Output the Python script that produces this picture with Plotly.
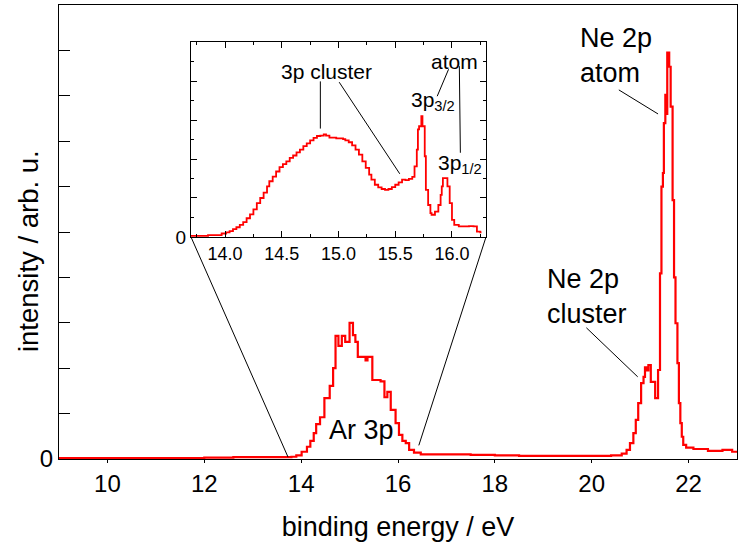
import plotly.graph_objects as go

# ---------------- data ----------------
main_energy = [9.0, 10.0, 11.0, 12.0, 12.6, 13.0, 13.5, 13.8, 13.9,
               14.01, 14.12, 14.19, 14.26, 14.31, 14.39, 14.48, 14.59, 14.66, 14.71,
               14.77, 14.84, 14.91, 15.00, 15.07, 15.12, 15.17, 15.33, 15.37, 15.47,
               15.64, 15.72, 15.78, 15.85, 15.95, 16.02, 16.09, 16.16, 16.23, 16.33,
               16.47, 17.0, 17.5, 18.0, 18.5, 19.0, 19.5, 20.0, 20.4, 20.62, 20.72,
               20.79, 20.86, 20.91, 20.96, 21.02, 21.07, 21.10, 21.14, 21.17, 21.22,
               21.31, 21.37, 21.41, 21.44, 21.47, 21.49, 21.52, 21.54, 21.56, 21.60,
               21.63, 21.67, 21.70, 21.73, 21.77, 21.80, 21.83, 21.86, 21.89, 21.95,
               22.1, 22.4, 22.7, 22.9, 23.0]
main_intensity = [0.02, 0.02, 0.02, 0.03, 0.04, 0.04, 0.04, 0.05, 0.08,
                  0.16, 0.27, 0.40, 0.57, 0.77, 0.92, 1.34, 1.61, 2.00, 2.71,
                  2.49, 2.71, 2.58, 3.00, 2.73, 2.58, 2.25, 2.17, 2.25, 1.74,
                  1.71, 1.36, 1.48, 1.08, 0.79, 0.53, 0.40, 0.35, 0.20, 0.14,
                  0.10, 0.10, 0.09, 0.08, 0.07, 0.07, 0.07, 0.07, 0.08, 0.12, 0.20,
                  0.35, 0.57, 0.86, 1.23, 1.67, 1.81, 2.02, 1.95, 2.07, 1.70,
                  1.34, 1.96, 4.09, 6.00, 6.30, 7.40, 8.02, 7.60, 8.95, 8.64,
                  7.76, 5.70, 4.00, 2.99, 2.11, 1.23, 0.79, 0.49, 0.31, 0.25,
                  0.22, 0.18, 0.20, 0.16, 0.16]

inset_energy = [13.70, 13.85, 13.97, 14.01, 14.04, 14.07, 14.10, 14.13, 14.16, 14.19,
                14.22, 14.25, 14.28, 14.31, 14.34, 14.37, 14.39, 14.42, 14.45, 14.48,
                14.51, 14.54, 14.57, 14.60, 14.63, 14.66, 14.69, 14.72, 14.75, 14.78,
                14.81, 14.84, 14.87, 14.89, 14.92, 14.95, 14.98, 15.01, 15.04, 15.06,
                15.09, 15.12, 15.15, 15.18, 15.21, 15.24, 15.27, 15.29, 15.32, 15.35,
                15.38, 15.41, 15.44, 15.47, 15.50, 15.53, 15.56, 15.59, 15.62, 15.65,
                15.67, 15.69, 15.70, 15.71, 15.73, 15.74, 15.76, 15.77, 15.79, 15.81,
                15.82, 15.85, 15.88, 15.90, 15.91, 15.92, 15.95, 15.96, 15.98, 16.00,
                16.02, 16.06, 16.15, 16.19, 16.22, 16.25, 16.26]
inset_intensity = [0.03, 0.05, 0.09, 0.12, 0.15, 0.20, 0.25, 0.31, 0.38, 0.48,
                   0.58, 0.71, 0.87, 1.00, 1.14, 1.30, 1.43, 1.55, 1.68, 1.79,
                   1.87, 1.94, 2.03, 2.09, 2.17, 2.24, 2.33, 2.40, 2.48, 2.54,
                   2.59, 2.60, 2.63, 2.60, 2.55, 2.55, 2.53, 2.53, 2.51, 2.48,
                   2.43, 2.35, 2.24, 2.11, 1.94, 1.77, 1.60, 1.47, 1.34, 1.27,
                   1.23, 1.21, 1.23, 1.28, 1.34, 1.40, 1.47, 1.46, 1.49, 1.54,
                   1.81, 2.24, 2.76, 2.84, 3.10, 2.84, 2.07, 1.21, 0.82, 0.61,
                   0.57, 0.65, 0.82, 1.08, 1.30, 1.51, 1.51, 1.30, 0.87, 0.44,
                   0.31, 0.27, 0.28, 0.27, 0.14, 0.12, 0.12]

main_x_range = [9, 23]
main_y_range = [0, 10]
inset_x_range = [13.70, 16.30]
inset_y_range = [0, 5]
main_x_ticks = [10, 12, 14, 16, 18, 20, 22]
inset_x_ticks = [14.0, 14.5, 15.0, 15.5, 16.0]

# zoom connector end points on the main spectrum (data coords)
zoom_left = (13.73, 0.04)
zoom_right = (16.43, 0.30)

FONT = "Arial, Liberation Sans, sans-serif"
RED = "#ff0000"

inset_dom_x = [0.1947, 0.6298]
inset_dom_y = [0.489, 0.9185]

fig = go.Figure()
fig.add_trace(go.Scatter(x=main_energy, y=main_intensity, mode="lines",
                         line=dict(color=RED, width=2.2, shape="hv"),
                         xaxis="x", yaxis="y", showlegend=False, hoverinfo="skip"))
fig.add_trace(go.Scatter(x=inset_energy, y=inset_intensity, mode="lines",
                         line=dict(color=RED, width=1.8, shape="hv"),
                         xaxis="x2", yaxis="y2", showlegend=False, hoverinfo="skip"))

ax_common = dict(showgrid=False, zeroline=False, linecolor="black", linewidth=1.4,
                 tickcolor="black", tickwidth=1.4)

layout = dict(
    width=740, height=546,
    margin=dict(l=59, r=3, t=5, b=87),
    paper_bgcolor="white", plot_bgcolor="white",
    font=dict(family=FONT, color="black", size=24),
    xaxis=dict(**ax_common, range=main_x_range, tickvals=main_x_ticks,
               ticks="outside", ticklen=3, showline=True, mirror=True,
               tickfont=dict(size=24),
               title=dict(text="binding energy / eV", font=dict(size=27), standoff=21)),
    # inner ticks (bottom and top) with minor ticks
    xaxis3=dict(**ax_common, range=main_x_range, overlaying="x", anchor="y",
                tickvals=main_x_ticks, ticks="inside", ticklen=9, mirror="ticks",
                showticklabels=False, showline=False,
                minor=dict(dtick=1, tick0=9, ticks="inside", ticklen=5,
                           tickcolor="black", tickwidth=1.4)),
    # outer part of the crossing major ticks
    xaxis4=dict(**ax_common, range=main_x_range, overlaying="x", anchor="y",
                side="bottom", tickvals=main_x_ticks, ticks="outside", ticklen=7,
                showticklabels=False, showline=False),
    yaxis=dict(**ax_common, range=main_y_range, tickvals=list(range(0, 10)),
               ticktext=["0"] + [""] * 9, ticks="inside", ticklen=11,
               showline=True, mirror=True, tickfont=dict(size=24)),
    yaxis4=dict(**ax_common, range=main_y_range, overlaying="y", side="right",
                anchor="x", tickvals=list(range(1, 10)), ticks="inside", ticklen=7,
                showticklabels=False, showline=False),
    xaxis2=dict(**ax_common, domain=inset_dom_x, anchor="y2", range=inset_x_range,
                tickvals=inset_x_ticks, tickformat=".1f", ticks="inside", ticklen=6,
                showline=True, mirror="ticks", tickfont=dict(size=18),
                minor=dict(dtick=0.25, tick0=14.0, ticks="inside", ticklen=3,
                           tickcolor="black", tickwidth=1.4)),
    yaxis2=dict(**ax_common, domain=inset_dom_y, anchor="x2", range=inset_y_range,
                tickvals=[0, 1, 2, 3, 4], ticktext=["0", "", "", "", ""],
                ticks="inside", ticklen=6, showline=True, mirror="ticks",
                tickfont=dict(size=19),
                minor=dict(dtick=0.5, tick0=0, ticks="inside", ticklen=3,
                           tickcolor="black", tickwidth=1.4)),
)
fig.update_layout(**layout)


def to_paper_x(e):
    return (e - main_x_range[0]) / (main_x_range[1] - main_x_range[0])


def to_paper_y(v):
    return (v - main_y_range[0]) / (main_y_range[1] - main_y_range[0])


shapes = []
# zoom connectors from inset corners to the spectrum
shapes.append(dict(type="line", xref="paper", yref="paper",
                   x0=inset_dom_x[0], y0=inset_dom_y[0],
                   x1=to_paper_x(zoom_left[0]), y1=to_paper_y(zoom_left[1]),
                   line=dict(color="black", width=1)))
shapes.append(dict(type="line", xref="paper", yref="paper",
                   x0=inset_dom_x[1], y0=inset_dom_y[0],
                   x1=to_paper_x(zoom_right[0]), y1=to_paper_y(zoom_right[1]),
                   line=dict(color="black", width=1)))
# leader lines in the main plot
for (x0, y0, x1, y1) in [(20.56, 8.13, 21.37, 7.60), (19.89, 2.89, 20.95, 1.81)]:
    shapes.append(dict(type="line", xref="x", yref="y", x0=x0, y0=y0, x1=x1, y1=y1,
                       line=dict(color="black", width=1)))
# leader lines in the inset
for (x0, y0, x1, y1) in [(14.84, 3.99, 14.84, 2.78), (15.006, 3.97, 15.54, 1.62),
                         (15.97, 4.30, 15.87, 3.61), (16.065, 4.38, 16.074, 2.16)]:
    shapes.append(dict(type="line", xref="x2", yref="y2", x0=x0, y0=y0, x1=x1, y1=y1,
                       line=dict(color="black", width=1)))
fig.update_layout(shapes=shapes)

ann = []
ann.append(dict(text="intensity / arb. u.", x=-0.0457, y=0.458, xref="paper", yref="paper",
                textangle=-90, xanchor="center", yanchor="middle", showarrow=False,
                font=dict(size=27.5)))
ann.append(dict(text="Ne 2p<br>atom", x=19.72, y=8.88, xref="x", yref="y",
                xanchor="left", yanchor="middle", align="left", showarrow=False,
                font=dict(size=27)))
ann.append(dict(text="Ne 2p<br>cluster", x=19.03, y=3.59, xref="x", yref="y",
                xanchor="left", yanchor="middle", align="left", showarrow=False,
                font=dict(size=27)))
ann.append(dict(text="Ar 3p", x=15.24, y=0.64, xref="x", yref="y",
                xanchor="center", yanchor="middle", showarrow=False,
                font=dict(size=27)))
ann.append(dict(text="3p cluster", x=14.89, y=4.25, xref="x2", yref="y2",
                xanchor="center", yanchor="middle", showarrow=False,
                font=dict(size=21)))
ann.append(dict(text="atom", x=16.02, y=4.51, xref="x2", yref="y2",
                xanchor="center", yanchor="middle", showarrow=False,
                font=dict(size=21)))
ann.append(dict(text="3p<sub>3/2</sub>", x=15.83, y=3.5, xref="x2", yref="y2",
                xanchor="center", yanchor="middle", showarrow=False,
                font=dict(size=21)))
ann.append(dict(text="3p<sub>1/2</sub>", x=16.07, y=1.86, xref="x2", yref="y2",
                xanchor="center", yanchor="middle", showarrow=False,
                font=dict(size=21)))
fig.update_layout(annotations=ann)

fig.write_html("out.html")
